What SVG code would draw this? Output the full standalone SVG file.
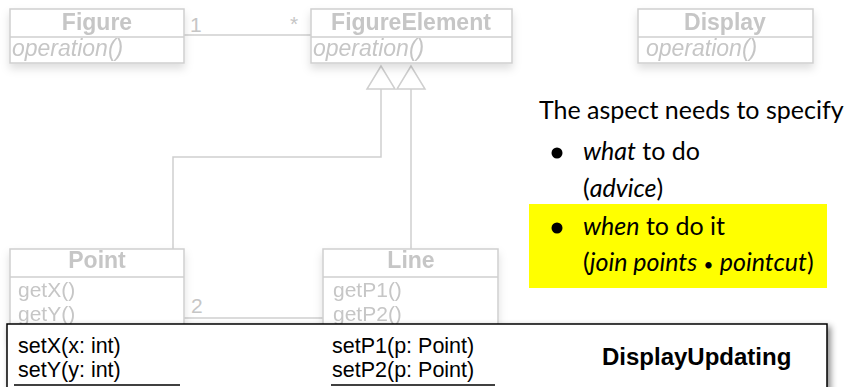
<svg xmlns="http://www.w3.org/2000/svg" width="850" height="387" viewBox="0 0 850 387">
  <style>
    .box { fill: #ffffff; stroke: #cfcfcf; stroke-width: 1.5; }
    .sep { stroke: #cfcfcf; stroke-width: 1.5; }
    .title { font-family: "Liberation Sans", Arial, sans-serif; font-size: 23px; font-weight: bold; fill: #c6c6c6; text-anchor: middle; }
    .op { font-family: "Liberation Sans", Arial, sans-serif; font-size: 23px; font-style: italic; fill: #c6c6c6; }
    .meth { font-family: "Liberation Sans", Arial, sans-serif; font-size: 21px; fill: #c6c6c6; }
    .mult { font-family: "Liberation Sans", Arial, sans-serif; font-size: 21px; fill: #c6c6c6; }
    .conn { fill: none; stroke: #cfcfcf; stroke-width: 1.5; }
    .tri { fill: #ffffff; stroke: #cfcfcf; stroke-width: 1.5; }
    .aspect { font-family: "Liberation Sans", Arial, sans-serif; font-size: 21.5px; fill: #000000; }
    .aspect-title { font-family: "Liberation Sans", Arial, sans-serif; font-size: 24px; font-weight: bold; fill: #000000; }
    .note { font-family: Lato, "Open Sans", sans-serif; font-size: 25px; fill: #000000; }
    .note .em { font-style: italic; }
    .note .dot { font-size: 17px; }
  </style>
  <defs>
    <filter id="softShadow" x="-10%" y="-20%" width="120%" height="160%">
      <feDropShadow dx="0" dy="5" stdDeviation="4" flood-color="#000000" flood-opacity="0.13"/>
    </filter>
    <filter id="darkShadow" x="-5%" y="-20%" width="110%" height="160%">
      <feDropShadow dx="3" dy="3" stdDeviation="3" flood-color="#000000" flood-opacity="0.45"/>
    </filter>
  </defs>

  <rect width="850" height="387" fill="#ffffff"/>

  <!-- connectors: association, generalizations -->
  <g id="connectors">
    <line class="conn" x1="184" y1="35" x2="311" y2="35"/>
    <text class="mult" x="190" y="32">1</text>
    <text class="mult" x="290" y="31" font-size="16">*</text>
    <polyline class="conn" points="381,89 381,157 173,157 173,249"/>
    <line class="conn" x1="411" y1="89" x2="411" y2="249"/>
    <polygon class="tri" points="381,66 367,89 395,89"/>
    <polygon class="tri" points="411,66 397,89 425,89"/>
    <line class="conn" x1="184" y1="318" x2="323" y2="318"/>
    <text class="mult" x="191" y="313">2</text>
  </g>

  <g id="figure" filter="url(#softShadow)">
    <rect class="box" x="10" y="9" width="174" height="54"/>
    <line class="sep" x1="10" y1="37" x2="184" y2="37"/>
    <text class="title" x="97" y="30">Figure</text>
    <text class="op" x="12" y="56">operation()</text>
  </g>

  <g id="figure-element" filter="url(#softShadow)">
    <rect class="box" x="311" y="9" width="201" height="54"/>
    <line class="sep" x1="311" y1="37" x2="512" y2="37"/>
    <text class="title" x="411" y="30">FigureElement</text>
    <text class="op" x="313" y="56">operation()</text>
  </g>

  <g id="display" filter="url(#softShadow)">
    <rect class="box" x="638" y="9" width="175" height="54"/>
    <line class="sep" x1="638" y1="37" x2="813" y2="37"/>
    <text class="title" x="725" y="30">Display</text>
    <text class="op" x="646" y="56">operation()</text>
  </g>

  <g id="point" filter="url(#softShadow)">
    <rect class="box" x="10" y="249" width="174" height="90"/>
    <line class="sep" x1="10" y1="277" x2="184" y2="277"/>
    <text class="title" x="97" y="268">Point</text>
    <text class="meth" x="18" y="297">getX()</text>
    <text class="meth" x="18" y="321">getY()</text>
  </g>

  <g id="line" filter="url(#softShadow)">
    <rect class="box" x="323" y="249" width="175" height="90"/>
    <line class="sep" x1="323" y1="277" x2="498" y2="277"/>
    <text class="title" x="411" y="268">Line</text>
    <text class="meth" x="333" y="297">getP1()</text>
    <text class="meth" x="333" y="321">getP2()</text>
  </g>

  <!-- highlight behind the second bullet -->
  <rect id="highlight" x="529" y="204" width="298" height="84" fill="#ffff00"/>

  <g id="aspect-note" class="note">
    <text x="539" y="119">The aspect needs to specify</text>
    <circle cx="557" cy="153" r="5.5" fill="#000000"/>
    <text x="583" y="160"><tspan class="em">what</tspan> to do</text>
    <text x="583" y="197">(<tspan class="em">advice</tspan>)</text>
    <circle cx="557" cy="228" r="5.5" fill="#000000"/>
    <text x="583" y="235"><tspan class="em">when</tspan> to do it</text>
    <text x="583" y="271">(<tspan class="em">join points</tspan> <tspan class="dot">•</tspan> <tspan class="em">pointcut</tspan>)</text>
  </g>

  <g id="display-updating">
    <rect x="7" y="324" width="820" height="80" fill="#ffffff" stroke="#000000" stroke-width="1.5" filter="url(#darkShadow)"/>
    <text class="aspect" x="18" y="353">setX(x: int)</text>
    <text class="aspect" x="18" y="377">setY(y: int)</text>
    <line x1="14" y1="385" x2="180" y2="385" stroke="#000000" stroke-width="1.5"/>
    <text class="aspect" x="332" y="353">setP1(p: Point)</text>
    <text class="aspect" x="332" y="377">setP2(p: Point)</text>
    <line x1="331" y1="385" x2="495" y2="385" stroke="#000000" stroke-width="1.5"/>
    <text class="aspect-title" x="602" y="365">DisplayUpdating</text>
  </g>
</svg>
